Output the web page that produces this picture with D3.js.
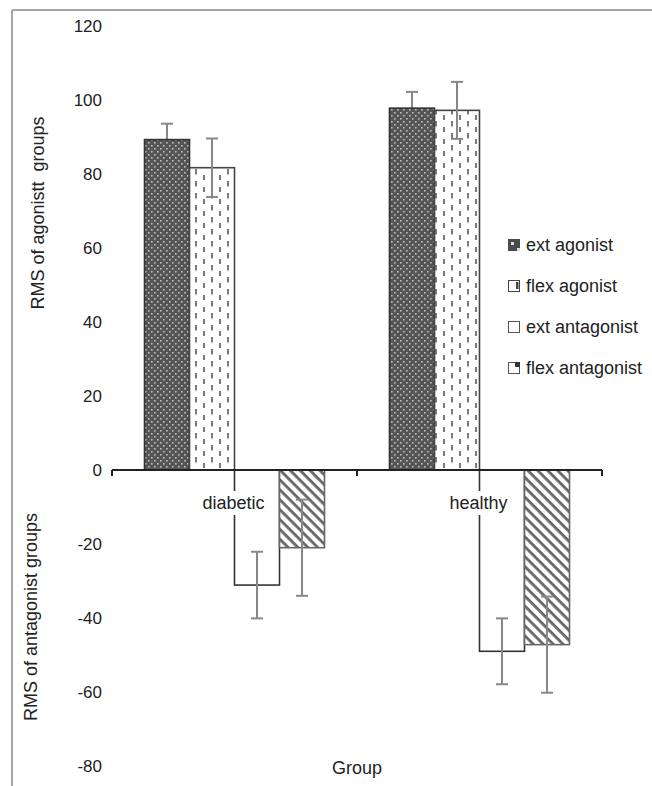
<!DOCTYPE html>
<html>
<head>
<meta charset="utf-8">
<script src="https://cdn.jsdelivr.net/npm/d3@7"></script>
<style>
  html, body { margin: 0; padding: 0; background: #fff; }
  svg text { font-family: "Liberation Sans", Arial, sans-serif; fill: #222; }
</style>
</head>
<body>
<svg id="chart" width="652" height="786"></svg>
<script>
// ---- data ----
const groups = ["diabetic", "healthy"];
const series = ["ext agonist", "flex agonist", "ext antagonist", "flex antagonist"];
const diabeticValues = [89.3, 81.7, -31.1, -21.0];
const healthyValues  = [97.8, 97.2, -49.0, -47.2];
const diabeticErrors = [4.3, 7.9, 9.0, 13.0];
const healthyErrors  = [4.4, 7.7, 8.9, 13.0];
const yTicks = [-80, -60, -40, -20, 0, 20, 40, 60, 80, 100, 120];
const yTitleTop = "RMS of agonistt  groups";
const yTitleBottom = "RMS of antagonist groups";
const xTitle = "Group";

const values = { diabetic: diabeticValues, healthy: healthyValues };
const errors = { diabetic: diabeticErrors, healthy: healthyErrors };

const rows = [];
groups.forEach(g => series.forEach((s, i) => rows.push({ group: g, series: s, value: values[g][i], err: errors[g][i] })));

const svg = d3.select("#chart");

// ---- patterns ----
const defs = svg.append("defs");
const pDots = defs.append("pattern").attr("id", "pDots").attr("patternUnits", "userSpaceOnUse")
  .attr("width", 6).attr("height", 6);
pDots.append("rect").attr("width", 6).attr("height", 6).attr("fill", "#555");
pDots.append("rect").attr("x", 1).attr("y", 1).attr("width", 1.6).attr("height", 1.6).attr("fill", "#bdbdbd");
pDots.append("rect").attr("x", 4).attr("y", 4).attr("width", 1.6).attr("height", 1.6).attr("fill", "#bdbdbd");

const pDash = defs.append("pattern").attr("id", "pDash").attr("patternUnits", "userSpaceOnUse")
  .attr("width", 16).attr("height", 12);
pDash.append("rect").attr("width", 16).attr("height", 12).attr("fill", "#fff");
pDash.append("rect").attr("x", 3).attr("y", 1).attr("width", 2).attr("height", 5.5).attr("fill", "#7a7a7a");
pDash.append("rect").attr("x", 11).attr("y", 7).attr("width", 2).attr("height", 5.5).attr("fill", "#7a7a7a");

const pDiag = defs.append("pattern").attr("id", "pDiag").attr("patternUnits", "userSpaceOnUse")
  .attr("width", 7).attr("height", 7).attr("patternTransform", "rotate(45)");
pDiag.append("rect").attr("width", 7).attr("height", 7).attr("fill", "#fff");
pDiag.append("rect").attr("x", 0).attr("y", 0).attr("width", 7).attr("height", 2.8).attr("fill", "#666");

const fills = { "ext agonist": "url(#pDots)", "flex agonist": "url(#pDash)", "ext antagonist": "#fff", "flex antagonist": "url(#pDiag)" };
const strokes = { "ext agonist": "#333", "flex agonist": "#444", "ext antagonist": "#333", "flex antagonist": "#666" };

// ---- frame ----
svg.append("line").attr("x1", 12).attr("x2", 652).attr("y1", 10).attr("y2", 10).attr("stroke", "#888").attr("stroke-width", 1.5);
svg.append("line").attr("x1", 12).attr("x2", 12).attr("y1", 10).attr("y2", 786).attr("stroke", "#888").attr("stroke-width", 1.5);

// ---- scales ----
const y = d3.scaleLinear().domain([-80, 120]).range([766, 26]);
const x0 = d3.scaleBand().domain(groups).range([112, 602]);
const x1 = d3.scaleBand().domain(series).range([0, x0.bandwidth()]).paddingOuter(0.722);

// ---- y axis (labels only) ----
const yAxis = svg.append("g").attr("transform", "translate(112,0)")
  .call(d3.axisLeft(y).tickValues(yTicks).tickSize(0).tickPadding(10).tickFormat(d => String(d)));
yAxis.select(".domain").remove();
yAxis.selectAll("text").style("font-size", "17px").attr("font-family", "Liberation Sans, Arial, sans-serif").attr("fill", "#222");

// ---- error bars helper ----
function drawErr(g, d) {
  const cx = x0(d.group) + x1(d.series) + x1.bandwidth() / 2;
  g.append("line").attr("x1", cx).attr("x2", cx).attr("y1", y(d.value + d.err)).attr("y2", y(d.value - d.err));
  g.append("line").attr("x1", cx - 6).attr("x2", cx + 6).attr("y1", y(d.value + d.err)).attr("y2", y(d.value + d.err));
  g.append("line").attr("x1", cx - 6).attr("x2", cx + 6).attr("y1", y(d.value - d.err)).attr("y2", y(d.value - d.err));
}
// ext agonist error bars sit behind the dark bars
const ebBack = svg.append("g").attr("stroke", "#888").attr("stroke-width", 2);
rows.filter(d => d.series === "ext agonist").forEach(d => drawErr(ebBack, d));

// ---- bars ----
const bars = svg.append("g");
bars.selectAll("rect").data(rows).join("rect")
  .attr("x", d => x0(d.group) + x1(d.series))
  .attr("width", x1.bandwidth())
  .attr("y", d => y(Math.max(0, d.value)))
  .attr("height", d => Math.abs(y(d.value) - y(0)))
  .attr("fill", d => fills[d.series])
  .attr("stroke", d => strokes[d.series])
  .attr("stroke-width", 1.6);

// ---- category labels with white background ----
const labG = svg.append("g");
groups.forEach(g => {
  const t = labG.append("text")
    .attr("x", x0(g) + x0.bandwidth() / 2 - 1)
    .attr("y", 509)
    .attr("text-anchor", "middle")
    .style("font-size", "18px")
    .text(g);
  const bb = t.node().getBBox();
  labG.insert("rect", "text").attr("x", bb.x - 2).attr("y", bb.y - 2).attr("width", bb.width + 4).attr("height", bb.height + 4).attr("fill", "#fff");
});

// ---- x axis ----
const xAxisG = svg.append("g").attr("transform", `translate(0,${y(0)})`);
xAxisG.append("line").attr("x1", x0.range()[0]).attr("x2", x0.range()[1]).attr("y1", 0).attr("y2", 0)
  .attr("stroke", "#222").attr("stroke-width", 2);
const boundaries = groups.map(g => x0(g)).concat([x0.range()[1]]);
xAxisG.selectAll("line.tick").data(boundaries).join("line").attr("class", "tick")
  .attr("x1", d => d).attr("x2", d => d).attr("y1", 0).attr("y2", 6)
  .attr("stroke", "#222").attr("stroke-width", 2);

// ---- error bars (front) ----
const eb = svg.append("g").attr("stroke", "#888").attr("stroke-width", 2);
rows.filter(d => d.series !== "ext agonist").forEach(d => drawErr(eb, d));

// ---- legend ----
const legend = svg.append("g").attr("transform", "translate(508,239)");
series.forEach((s, i) => {
  const g = legend.append("g").attr("transform", `translate(0,${i * 41})`);
  if (s === "ext agonist") {
    g.append("rect").attr("width", 12).attr("height", 12).attr("fill", "#4a4a4a");
    g.append("rect").attr("x", 3).attr("y", 3).attr("width", 3).attr("height", 3).attr("fill", "#ddd");
    g.append("rect").attr("x", 9).attr("y", 9).attr("width", 3).attr("height", 3).attr("fill", "#ddd");
  } else if (s === "flex agonist") {
    g.append("rect").attr("x", 0.5).attr("y", 0.5).attr("width", 11).attr("height", 11).attr("fill", "#fff").attr("stroke", "#444");
    g.append("rect").attr("x", 8).attr("y", 2).attr("width", 2.5).attr("height", 7).attr("fill", "#444");
  } else if (s === "ext antagonist") {
    g.append("rect").attr("x", 0.5).attr("y", 0.5).attr("width", 11).attr("height", 11).attr("fill", "#fff").attr("stroke", "#555");
  } else {
    g.append("rect").attr("x", 0.5).attr("y", 0.5).attr("width", 11).attr("height", 11).attr("fill", "#fff").attr("stroke", "#555");
    g.append("path").attr("d", "M6,0 L12,0 L12,6 Z").attr("fill", "#333");
    g.append("rect").attr("x", 7).attr("y", 1).attr("width", 4).attr("height", 4).attr("fill", "#333");
  }
  g.append("text").attr("x", 18).attr("y", 6).attr("dy", "0.35em").style("font-size", "18px").text(s);
});

// ---- axis titles ----
svg.append("text").attr("transform", "translate(44,213) rotate(-90)").attr("text-anchor", "middle")
  .style("font-size", "18px").style("white-space", "pre").text(yTitleTop);
svg.append("text").attr("transform", "translate(37,617) rotate(-90)").attr("text-anchor", "middle")
  .style("font-size", "18px").text(yTitleBottom);
svg.append("text").attr("x", 357).attr("y", 774).attr("text-anchor", "middle")
  .style("font-size", "18px").text(xTitle);
</script>
</body>
</html>
